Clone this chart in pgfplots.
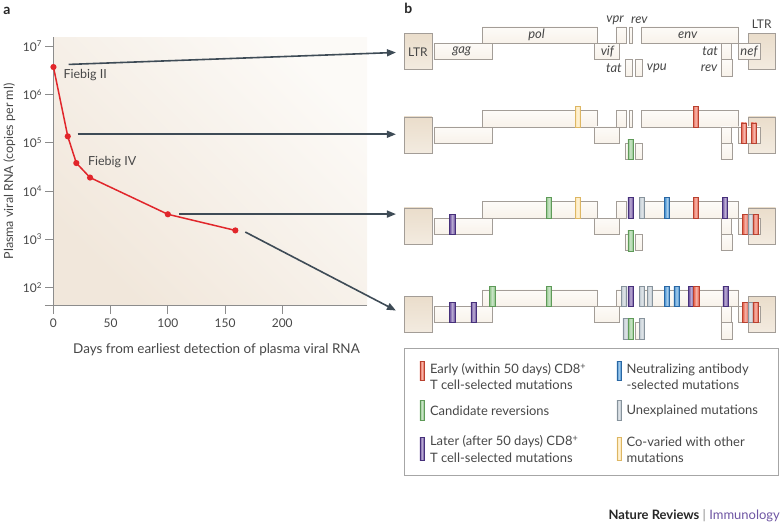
\documentclass[border=0pt]{standalone}
\usepackage{fontspec}
\setmainfont{Lato}
\usepackage{pgfplots}
\pgfplotsset{compat=1.18}
\usetikzlibrary{arrows.meta}
\definecolor{txt}{HTML}{474747}
\definecolor{axc}{HTML}{8C8C8C}
\definecolor{arr}{HTML}{3E4B56}
\definecolor{vl}{HTML}{E1262B}
\definecolor{bgl}{HTML}{FCFAF7}
\definecolor{bgd}{HTML}{F1E7DB}
\definecolor{boxb}{HTML}{A39D97}
\definecolor{ltrf}{HTML}{EADDCB}
\definecolor{ltrl}{HTML}{F3EBE0}
\definecolor{genef}{HTML}{F8F2EA}
\definecolor{genel}{HTML}{FDFBF8}
\definecolor{mred}{HTML}{E8604A}
\definecolor{mredd}{HTML}{B8412F}
\definecolor{mgrn}{HTML}{8DC487}
\definecolor{mgrnd}{HTML}{5E9A58}
\definecolor{mpur}{HTML}{6B4E9E}
\definecolor{mpurd}{HTML}{46307A}
\definecolor{mblu}{HTML}{3C8DD0}
\definecolor{mblud}{HTML}{2A67A3}
\definecolor{mgry}{HTML}{BAC5CD}
\definecolor{mgryd}{HTML}{87939C}
\definecolor{myel}{HTML}{FCE3AA}
\definecolor{myeld}{HTML}{DDB663}
\definecolor{immu}{HTML}{6E55A3}
\tikzset{
  gene/.style={draw=boxb, line width=0.6pt, top color=genel, bottom color=genef},
  ltr/.style={draw=boxb, line width=0.6pt, top color=ltrf, bottom color=ltrl},
  mutst/.style={draw=#1d, line width=0.5pt, left color=#1, right color=#1, middle color=#1!45!white},
  arw/.style={arr, line width=1.6pt, -{Triangle[length=9pt,width=7pt]}},
  glab/.style={font=\itshape\fontsize{13}{15}\selectfont, text=txt, inner sep=0},
  ltxt/.style={font=\fontsize{13}{15}\selectfont, text=txt, anchor=west, inner sep=0},
}
\newcommand\genome[1]{%
 \draw[ltr] (axis cs:403.3,{32.5+#1}) rectangle (axis cs:431,{69+#1});
 \draw[gene] (axis cs:433,{42.7+#1}) rectangle (axis cs:492,{59+#1});
 \draw[gene] (axis cs:482,{26.3+#1}) rectangle (axis cs:597,{42.7+#1});
 \draw[gene] (axis cs:594,{42.7+#1}) rectangle (axis cs:619,{59+#1});
 \draw[gene] (axis cs:616,{26.3+#1}) rectangle (axis cs:626.3,{42.7+#1});
 \draw[gene] (axis cs:628.7,{26.3+#1}) rectangle (axis cs:632.3,{42.7+#1});
 \draw[gene] (axis cs:624.7,{59+#1}) rectangle (axis cs:632,{75.5+#1});
 \draw[gene] (axis cs:635.3,{59+#1}) rectangle (axis cs:642.3,{75.5+#1});
 \draw[gene] (axis cs:640.7,{26.3+#1}) rectangle (axis cs:738.3,{42.7+#1});
 \draw[gene] (axis cs:720.7,{42.7+#1}) rectangle (axis cs:731,{59+#1});
 \draw[gene] (axis cs:720.7,{59+#1}) rectangle (axis cs:732,{75.5+#1});
 \draw[ltr] (axis cs:748.3,{32.5+#1}) rectangle (axis cs:775.7,{69+#1});
 \draw[gene] (axis cs:738.3,{42.7+#1}) rectangle (axis cs:760,{59+#1});
}
% colour, x-left, track top (row-1 coords), row offset
\newcommand\mut[4]{\draw[mutst=#1] (axis cs:#2,{#3+#4}) rectangle (axis cs:{#2+5.2},{#3+20.4+#4});}
\begin{document}
\begin{tikzpicture}
\begin{axis}[
  at={(51.7pt,220pt)}, anchor=south west,
  scale only axis, width=314.3pt, height=269.3pt,
  xmin=0, xmax=274.1,
  ymode=log, ymin=41.9, ymax=1.535e7,
  axis lines*=left,
  axis line style={axc, line width=0.9pt},
  tick style={axc, line width=0.9pt},
  major tick length=8pt, tick align=outside,
  xminorticks=false, yminorticks=false,
  xtick={0,50,100,150,200}, xticklabels={0,50,100,150,200},
  ytick={1e2,1e3,1e4,1e5,1e6,1e7},
  yticklabels={10\textsuperscript{2},10\textsuperscript{3},10\textsuperscript{4},10\textsuperscript{5},10\textsuperscript{6},10\textsuperscript{7}},
  tick label style={font=\fontsize{12}{14}\selectfont, text=txt},
  xticklabel style={yshift=-1.5pt},
  axis background/.style={top color=bgl, bottom color=bgd, shading angle=-45},
  clip=false,
  xlabel={Days from earliest detection of plasma viral RNA},
  ylabel={Plasma viral RNA (copies per ml)},
  xlabel style={font=\fontsize{13.5}{15}\selectfont, text=txt, at={(axis description cs:0.52,-0.163)}, anchor=center},
  ylabel style={font=\fontsize{12.5}{14}\selectfont, text=txt, at={(axis description cs:-0.1406,0.5)}, anchor=center},
]
\addplot[vl, line width=1.5pt, mark=*, mark size=2.3pt, mark options={vl}]
  coordinates {(0,3.7e6) (12.5,1.36e5) (20,3.8e4) (32,1.9e4) (100,3.3e3) (159,1.53e3)};
\end{axis}
\begin{axis}[
  at={(0pt,0pt)}, anchor=south west,
  scale only axis, width=780pt, height=526pt,
  xmin=0, xmax=780, ymin=0, ymax=526, y dir=reverse,
  hide axis, clip=false]
\addplot[draw=none] coordinates {(0,0) (780,526)};
\draw[axc, line width=0.9pt] (axis cs:43,306) -- (axis cs:52,306);
% panel labels
\node[font=\bfseries\fontsize{14}{16}\selectfont, text=black!85] at (axis cs:5,10) {a};
\node[font=\bfseries\fontsize{14}{16}\selectfont, text=black!85] at (axis cs:407.5,8) {b};
\node[font=\fontsize{12.5}{14}\selectfont, text=txt] at (axis cs:83.5,75) {Fiebig II};
\node[font=\fontsize{12.5}{14}\selectfont, text=txt] at (axis cs:110.5,162) {Fiebig IV};
% arrows
\draw[arw] (axis cs:67,64) -- (axis cs:395,52);
\draw[arw] (axis cs:76,134) -- (axis cs:395,134);
\draw[arw] (axis cs:178,214) -- (axis cs:395,214);
\draw[arw] (axis cs:244,232) -- (axis cs:395,310.7);
% genomes
\genome{0}
\genome{84}
\genome{175.3}
\genome{263.8}
% row 1 labels
\node[font=\fontsize{12}{14}\selectfont, text=txt] at (axis cs:417,51.5) {LTR};
\node[font=\fontsize{12}{14}\selectfont, text=txt] at (axis cs:761.7,24) {LTR};
\node[glab] at (axis cs:461,50.5) {gag};
\node[glab] at (axis cs:536,34.5) {pol};
\node[glab] at (axis cs:607,51) {vif};
\node[glab] at (axis cs:614.7,19.5) {vpr};
\node[glab] at (axis cs:639,19.5) {rev};
\node[glab] at (axis cs:613.5,67.5) {tat};
\node[glab] at (axis cs:656.5,67.5) {vpu};
\node[glab] at (axis cs:687.5,34.5) {env};
\node[glab] at (axis cs:710,51) {tat};
\node[glab] at (axis cs:709,67.5) {rev};
\node[glab] at (axis cs:749,51) {nef};
% row 2 mutations
\mut{myel}{574.5}{22.3}{84}
\mut{mred}{692.8}{22.3}{84}
\mut{mgrn}{627.4}{55.1}{84}
\mut{mred}{741.2}{38.7}{84}
\mut{mred}{751.2}{38.7}{84}
% row 3 mutations
\mut{mpur}{448.8}{38.7}{175.3}
\mut{mgrn}{545.6}{22.3}{175.3}
\mut{myel}{574.5}{22.3}{175.3}
\mut{mpur}{627.4}{22.3}{175.3}
\mut{mgry}{638.8}{22.3}{175.3}
\mut{mblu}{664.2}{22.3}{175.3}
\mut{mred}{692.8}{22.3}{175.3}
\mut{mpur}{722.2}{22.3}{175.3}
\mut{mgrn}{627.4}{55.1}{175.3}
\mut{mred}{742.6}{38.7}{175.3}
\mut{mgry}{747.7}{38.7}{175.3}
\mut{mred}{752.8}{38.7}{175.3}
% row 4 mutations
\mut{mpur}{448.8}{38.7}{263.8}
\mut{mpur}{470.1}{38.7}{263.8}
\mut{mgrn}{488.9}{22.3}{263.8}
\mut{mgrn}{545.6}{22.3}{263.8}
\mut{mgry}{620.7}{22.3}{263.8}
\mut{mpur}{627.6}{22.3}{263.8}
\mut{mgry}{638.8}{22.3}{263.8}
\mut{mgry}{646.7}{22.3}{263.8}
\mut{mblu}{664.0}{22.3}{263.8}
\mut{mblu}{673.7}{22.3}{263.8}
\mut{mpur}{688.3}{22.3}{263.8}
\mut{mred}{693.4}{22.3}{263.8}
\mut{mpur}{722.6}{22.3}{263.8}
\mut{mgry}{622.6}{55.1}{263.8}
\mut{mgrn}{627.7}{55.1}{263.8}
\mut{mgry}{638.8}{55.1}{263.8}
\mut{mred}{742.6}{38.7}{263.8}
\mut{mgry}{747.7}{38.7}{263.8}
\mut{mred}{752.8}{38.7}{263.8}
% legend
\draw[draw=black!35, line width=0.9pt] (axis cs:403.3,348.3) rectangle (axis cs:778,476);
\draw[mutst=mred] (axis cs:419,362) rectangle (axis cs:423,381);
\draw[mutst=mblu] (axis cs:616.5,362) rectangle (axis cs:620.5,381);
\draw[mutst=mgrn] (axis cs:419,401) rectangle (axis cs:423,421);
\draw[mutst=mgry] (axis cs:616.5,401) rectangle (axis cs:620.5,421);
\draw[mutst=mpur] (axis cs:419,438) rectangle (axis cs:423,461);
\draw[mutst=myel] (axis cs:616.5,438) rectangle (axis cs:620.5,461);
\node[ltxt] at (axis cs:429,370) {Early (within 50 days) CD8\textsuperscript{+}};
\node[ltxt] at (axis cs:429,385.5) {T cell-selected mutations};
\node[ltxt] at (axis cs:626,370) {Neutralizing antibody};
\node[ltxt] at (axis cs:626,385.5) {-selected mutations};
\node[ltxt] at (axis cs:429,411.5) {Candidate reversions};
\node[ltxt] at (axis cs:626,411.5) {Unexplained mutations};
\node[ltxt] at (axis cs:429,442) {Later (after 50 days) CD8\textsuperscript{+}};
\node[ltxt] at (axis cs:429,458.5) {T cell-selected mutations};
\node[ltxt] at (axis cs:626,442) {Co-varied with other};
\node[ltxt] at (axis cs:626,458.5) {mutations};
% footer
\node[anchor=east, inner sep=0, font=\fontsize{13}{15}\selectfont] at (axis cs:780,516)
  {{\bfseries\color{black!85}Nature Reviews} {\color{black!45}|} {\color{immu}Immunology}};
\end{axis}
\end{tikzpicture}
\end{document}
